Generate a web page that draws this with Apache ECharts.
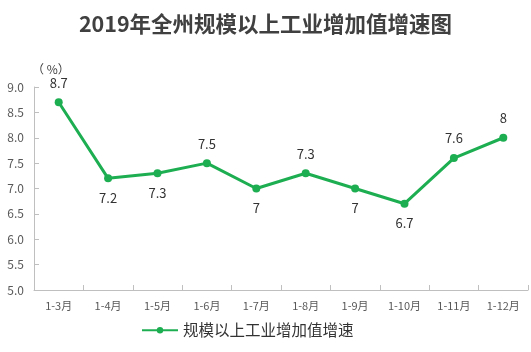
<!DOCTYPE html>
<html><head><meta charset="utf-8">
<script src="https://cdn.jsdelivr.net/npm/echarts@6/dist/echarts.min.js"></script>
<style>html,body{margin:0;padding:0;background:#fff}#c{width:531px;height:352px}</style>
</head><body><div id="c"></div>
<script>
const categories = ['1-3月','1-4月','1-5月','1-6月','1-7月','1-8月','1-9月','1-10月','1-11月','1-12月'];
const values = [8.7, 7.2, 7.3, 7.5, 7, 7.3, 7, 6.7, 7.6, 8];
const labelPos = ['top','bottom','bottom','top','bottom','top','bottom','bottom','top','top'];
const seriesName = '规模以上工业增加值增速';
const titleText = '2019年全州规模以上工业增加值增速图';

const font = '"Noto Sans CJK SC", "Microsoft YaHei", sans-serif';
const chart = echarts.init(document.getElementById('c'));
chart.setOption({
  animation: false,
  textStyle: { fontFamily: font },
  title: { text: titleText, left: 'center', top: 8,
    textStyle: { fontSize: 21.5, fontWeight: 'bold', color: '#404040', fontFamily: font } },
  grid: { left: 34, right: 3, top: 87, bottom: 62 },
  legend: { data: [seriesName], bottom: 9, left: 136, itemWidth: 36, itemHeight: 8, itemGap: 6,
    textStyle: { fontSize: 15.5, color: '#333', fontFamily: font } },
  xAxis: { type: 'category', data: categories, boundaryGap: true,
    axisLine: { lineStyle: { color: '#bfbfbf', width: 1 } },
    axisTick: { show: true, inside: true, length: 5, alignWithLabel: false, lineStyle: { color: '#bfbfbf' } },
    axisLabel: { color: '#595959', fontSize: 11, margin: 10, interval: 0 } },
  yAxis: { type: 'value', min: 5, max: 9, interval: 0.5, name: '（ %）',
    nameLocation: 'end', nameGap: 12,
    nameTextStyle: { color: '#404040', fontSize: 12, align: 'left', padding: [0,0,0,-2] },
    axisLine: { show: true, lineStyle: { color: '#bfbfbf' } },
    axisTick: { show: true, inside: true, length: 5, lineStyle: { color: '#bfbfbf' } },
    splitLine: { show: false },
    axisLabel: { color: '#595959', fontSize: 12, margin: 10, formatter: v => v.toFixed(1) } },
  series: [{
    name: seriesName, type: 'line', data: values.map((v,i)=>({value:v, label:{position:labelPos[i]}})),
    symbol: 'circle', symbolSize: 8,
    lineStyle: { color: '#1eae52', width: 3 },
    itemStyle: { color: '#1eae52' },
    label: { show: true, color: '#333', fontSize: 13, distance: 9 }
  }]
});
</script></body></html>
